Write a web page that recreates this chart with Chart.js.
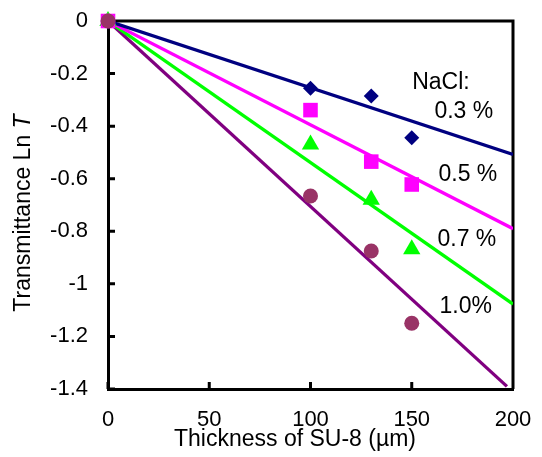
<!DOCTYPE html>
<html><head><meta charset="utf-8">
<script src="https://cdn.jsdelivr.net/npm/chart.js@4/dist/chart.umd.min.js"></script>
<style>html,body{margin:0;padding:0;background:#fff;}#wrap{width:542px;height:457px;position:relative;}</style>
</head><body><div id="wrap"><canvas id="c" width="542" height="457" style="width:542px;height:457px"></canvas></div>
<script>
// ---- data ----
const thickness = [0, 100, 130, 150];
const nacl03 = [0, -0.256, -0.285, -0.444];
const nacl05 = [0, -0.339, -0.535, -0.622];
const nacl07 = [0, -0.47, -0.68, -0.868];
const nacl10 = [0, -0.666, -0.875, -1.15];
const fitX = [0, 200];
const fit03 = [0, -0.508];
const fit05 = [0, -0.79];
const fit07 = [0, -1.077];
const fitX10 = [0, 197];
const fit10 = [0, -1.39];
const xTickValues = [0, 50, 100, 150, 200];
const xTickLabels = ['0', '50', '100', '150', '200'];
const yTickValues = [0, -0.2, -0.4, -0.6, -0.8, -1, -1.2, -1.4];
const yTickLabels = ['0', '-0.2', '-0.4', '-0.6', '-0.8', '-1', '-1.2', '-1.4'];
const noteTexts = ['NaCl:', '0.3 %', '0.5 %', '0.7 %', '1.0%'];
const noteX = [150.2, 161.2, 163.2, 162.7, 163.7];
const noteY = [-0.236, -0.346, -0.586, -0.833, -1.088];

const FONT = "'Liberation Sans', Arial, sans-serif";
const pts = (xs, ys) => xs.map((x, i) => ({x: x, y: ys[i]}));

function markerSet(data, color, style, r, order) {
  return {data: pts(thickness, data), showLine: false, pointStyle: style, pointRadius: r,
    pointHoverRadius: r, backgroundColor: color, borderColor: color, pointBorderWidth: 0,
    clip: false, order: order};
}
function lineSet(xs, ys, color) {
  return {data: pts(xs, ys), showLine: true, pointRadius: 0, borderColor: color,
    borderWidth: 3.3, fill: false, order: 10};
}

const deco = {
  id: 'deco',
  beforeDatasetsDraw(chart) {
    const {ctx, chartArea: a, scales: {x, y}} = chart;
    ctx.save();
    ctx.strokeStyle = '#000';
    ctx.lineWidth = 3;
    ctx.beginPath();
    ctx.moveTo(a.left, a.top); ctx.lineTo(a.right, a.top); ctx.lineTo(a.right, a.bottom);
    yTickValues.forEach(v => { const p = y.getPixelForValue(v); ctx.moveTo(a.left, p); ctx.lineTo(a.left + 7, p); });
    xTickValues.forEach(v => { const p = x.getPixelForValue(v); ctx.moveTo(p, a.bottom); ctx.lineTo(p, a.bottom - 7); });
    ctx.stroke();
    ctx.restore();
  },
  afterDraw(chart) {
    const {ctx, chartArea: a, scales: {x, y}} = chart;
    ctx.save();
    ctx.fillStyle = '#000';
    ctx.textBaseline = 'middle';
    ctx.font = '23px ' + FONT;
    ctx.textAlign = 'left';
    noteTexts.forEach((t, i) => ctx.fillText(t, x.getPixelForValue(noteX[i]), y.getPixelForValue(noteY[i])));
    ctx.textAlign = 'center';
    ctx.fillText('Thickness of SU-8 (µm)', 295, 440);
    const p1 = 'Transmittance Ln ';
    ctx.font = '23px ' + FONT;
    const w1 = ctx.measureText(p1).width;
    ctx.font = 'italic 23px ' + FONT;
    const w2 = ctx.measureText('T').width;
    ctx.translate(24, 213);
    ctx.rotate(-Math.PI / 2);
    ctx.textAlign = 'left';
    const s = -(w1 + w2) / 2;
    ctx.font = '23px ' + FONT;
    ctx.fillText(p1, s, 0);
    ctx.font = 'italic 23px ' + FONT;
    ctx.fillText('T', s + w1, 0);
    ctx.restore();
  }
};

new Chart(document.getElementById('c'), {
  type: 'scatter',
  data: {
    datasets: [
      lineSet(fitX, fit03, '#000080'),
      lineSet(fitX, fit05, '#FF00FF'),
      lineSet(fitX, fit07, '#00FF00'),
      lineSet(fitX10, fit10, '#800080'),
      markerSet(nacl03, '#000080', 'rectRot', 7.5, 4),
      markerSet(nacl07, '#00FF00', 'triangle', 10, 3),
      markerSet(nacl05, '#FF00FF', 'rect', 10.3, 2),
      markerSet(nacl10, '#993366', 'circle', 7.5, 1)
    ]
  },
  options: {
    responsive: false,
    maintainAspectRatio: false,
    animation: false,
    devicePixelRatio: 1,
    layout: {padding: {top: 21, right: 29, left: 0, bottom: 0}},
    plugins: {legend: {display: false}, tooltip: {enabled: false}},
    scales: {
      x: {
        type: 'linear', min: 0, max: 200,
        afterBuildTicks: s => { s.ticks = xTickValues.map(v => ({value: v})); },
        afterFit: s => { s.height = 68; s.paddingLeft = 0; s.paddingRight = 0; },
        grid: {display: true, drawOnChartArea: false, drawTicks: false},
        border: {display: true, color: '#000', width: 3},
        ticks: {padding: 18, color: '#000', font: {family: FONT, size: 22},
          maxRotation: 0, minRotation: 0, autoSkip: false,
          callback: v => { const i = xTickValues.indexOf(v); return i >= 0 ? xTickLabels[i] : ''; }}
      },
      y: {
        type: 'linear', min: -1.4, max: 0,
        afterBuildTicks: s => { s.ticks = yTickValues.map(v => ({value: v})); },
        afterFit: s => { s.width = 108; s.paddingTop = 0; s.paddingBottom = 0; },
        grid: {display: true, drawOnChartArea: false, drawTicks: false},
        border: {display: true, color: '#000', width: 3},
        ticks: {padding: 20, color: '#000', font: {family: FONT, size: 22}, autoSkip: false,
          callback: v => { const i = yTickValues.findIndex(t => Math.abs(t - v) < 1e-6); return i >= 0 ? yTickLabels[i] : ''; }}
      }
    }
  },
  plugins: [deco]
});
</script></body></html>
